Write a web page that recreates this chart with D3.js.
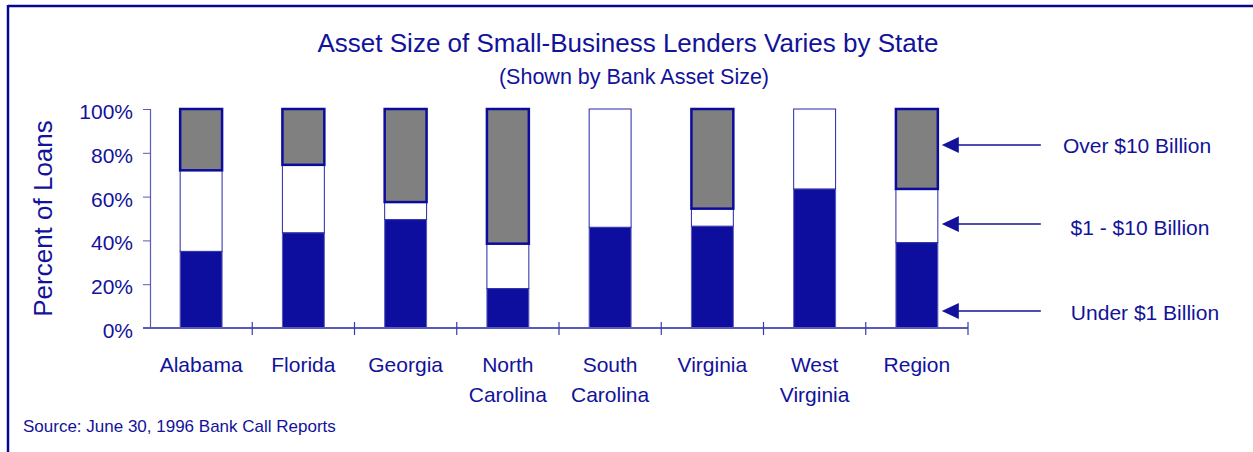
<!DOCTYPE html>
<html>
<head>
<meta charset="utf-8">
<script src="https://cdn.jsdelivr.net/npm/d3@7"></script>
<style>
  body { margin: 0; background: #fff; }
  text { font-family: "Liberation Sans", Arial, sans-serif; fill: #12129a; }
</style>
</head>
<body>
<div id="chart"></div>
<script>
// data (percent of loans)
var states = ["Alabama", "Florida", "Georgia", "North Carolina", "South Carolina", "Virginia", "West Virginia", "Region"];
var under1 = [35, 43.5, 49.5, 18, 46, 46.5, 63.5, 39];
var oneTo10 = [37, 31, 8, 20.5, 54, 8, 36.5, 24.5];
var over10 = [28, 25.5, 42.5, 61.5, 0, 45.5, 0, 36.5];
var yTicks = [0, 20, 40, 60, 80, 100];
var legendNames = ["Over $10 Billion", "$1 - $10 Billion", "Under $1 Billion"];

var width = 1253, height = 452;
var margin = {top: 109, left: 150, bottom: 124, right: 285};

var svg = d3.select("#chart").append("svg")
  .attr("width", width)
  .attr("height", height);

// frame (top and left only)
svg.append("line").attr("x1", 8).attr("x2", width).attr("y1", 6).attr("y2", 6)
  .attr("stroke", "#08088f").attr("stroke-width", 2.5);
svg.append("line").attr("x1", 8).attr("x2", 8).attr("y1", 5).attr("y2", height)
  .attr("stroke", "#08088f").attr("stroke-width", 2.5);

// titles
svg.append("text").attr("x", 628).attr("y", 52).attr("text-anchor", "middle")
  .style("font-size", "26px").text("Asset Size of Small-Business Lenders Varies by State");
svg.append("text").attr("x", 634).attr("y", 84).attr("text-anchor", "middle")
  .style("font-size", "21.5px").text("(Shown by Bank Asset Size)");

var x = d3.scaleBand()
  .domain(states)
  .range([margin.left, width - margin.right])
  .paddingInner(0.59)
  .paddingOuter(0.295);

var y = d3.scaleLinear()
  .domain([0, 100])
  .range([height - margin.bottom, margin.top]);

// stacked data
var rows = states.map(function(s, i) {
  return {state: s, under: under1[i], mid: oneTo10[i], over: over10[i]};
});
var stack = d3.stack().keys(["under", "mid", "over"]);
var series = stack(rows);

var styles = {
  under: {fill: "#0e0e9e", stroke: "#5a5abb", width: 1},
  mid: {fill: "#ffffff", stroke: "#2828a6", width: 1},
  over: {fill: "#808080", stroke: "#0c0c9c", width: 2.5}
};

svg.selectAll("g.layer")
  .data(series)
  .enter().append("g")
  .attr("class", "layer")
  .each(function(layer) {
    var st = styles[layer.key];
    d3.select(this).selectAll("rect")
      .data(layer.filter(function(d) { return d[1] - d[0] > 0; }))
      .enter().append("rect")
      .attr("x", function(d) { return x(d.data.state); })
      .attr("width", x.bandwidth())
      .attr("y", function(d) { return y(d[1]); })
      .attr("height", function(d) { return y(d[0]) - y(d[1]); })
      .attr("fill", st.fill)
      .attr("stroke", st.stroke)
      .attr("stroke-width", st.width);
  });

// y axis
var yAxis = d3.axisLeft(y)
  .tickValues(yTicks)
  .tickSize(7)
  .tickFormat(function(d) { return d + "%"; });
var gy = svg.append("g")
  .attr("transform", "translate(" + margin.left + ",0)")
  .call(yAxis);
gy.select(".domain").attr("stroke", "#5a5abb").attr("stroke-width", 1.2);
gy.selectAll(".tick line").attr("stroke", "#5a5abb");
gy.selectAll(".tick text")
  .attr("x", -17)
  .attr("dy", "0.45em")
  .style("font-family", "Liberation Sans, Arial, sans-serif")
  .style("font-size", "21px")
  .attr("fill", "#12129a");

// x axis line with tick marks at category boundaries
var x0 = margin.left, x1 = width - margin.right;
svg.append("line")
  .attr("x1", x0 - 7).attr("x2", x1)
  .attr("y1", y(0)).attr("y2", y(0))
  .attr("stroke", "#5a5abb").attr("stroke-width", 2);
var step = x.step();
var bounds = d3.range(states.length + 1).map(function(i) { return x0 + i * step; });
svg.selectAll("line.xtick")
  .data(bounds.slice(1))
  .enter().append("line")
  .attr("class", "xtick")
  .attr("x1", function(d) { return d; }).attr("x2", function(d) { return d; })
  .attr("y1", y(0) - 6).attr("y2", y(0) + 7)
  .attr("stroke", "#3a3ab0").attr("stroke-width", 1.2);

// category labels
var labels = svg.selectAll("text.cat")
  .data(states)
  .enter().append("text")
  .attr("class", "cat")
  .attr("text-anchor", "middle")
  .style("font-size", "21px")
  .attr("x", function(d) { return x(d) + x.bandwidth() / 2; })
  .attr("y", 372);
labels.each(function(d) {
  var parts = d.split(" ");
  var t = d3.select(this);
  parts.forEach(function(p, i) {
    t.append("tspan")
      .attr("x", x(d) + x.bandwidth() / 2)
      .attr("dy", i === 0 ? 0 : 29.5)
      .text(p);
  });
});

// y axis title
svg.append("text")
  .attr("transform", "translate(52," + y(50) + ") rotate(-90)")
  .attr("text-anchor", "middle")
  .style("font-size", "26px")
  .text("Percent of Loans");

// legend arrows pointing at the last bar
var legY = [145, 224, 311];
var legTextY = [153, 235, 320];
var legTextX = [1137, 1140, 1145];
var tipX = x(states[states.length - 1]) + x.bandwidth() + 4;
var leg = svg.selectAll("g.leg")
  .data(legendNames)
  .enter().append("g")
  .attr("class", "leg");
leg.append("line")
  .attr("x1", tipX + 10).attr("x2", tipX + 99)
  .attr("y1", function(d, i) { return legY[i]; })
  .attr("y2", function(d, i) { return legY[i]; })
  .attr("stroke", "#12129a").attr("stroke-width", 1.3);
leg.append("path")
  .attr("d", function(d, i) {
    return "M" + tipX + "," + legY[i] + " l17,-8 l0,16 Z";
  })
  .attr("fill", "#12129a");
leg.append("text")
  .attr("x", function(d, i) { return legTextX[i]; })
  .attr("y", function(d, i) { return legTextY[i]; })
  .attr("text-anchor", "middle")
  .style("font-size", "21px")
  .text(function(d) { return d; });

// source note
svg.append("text")
  .attr("x", 23).attr("y", 432)
  .style("font-size", "17px")
  .text("Source:  June 30, 1996 Bank Call Reports");
</script>
</body>
</html>
